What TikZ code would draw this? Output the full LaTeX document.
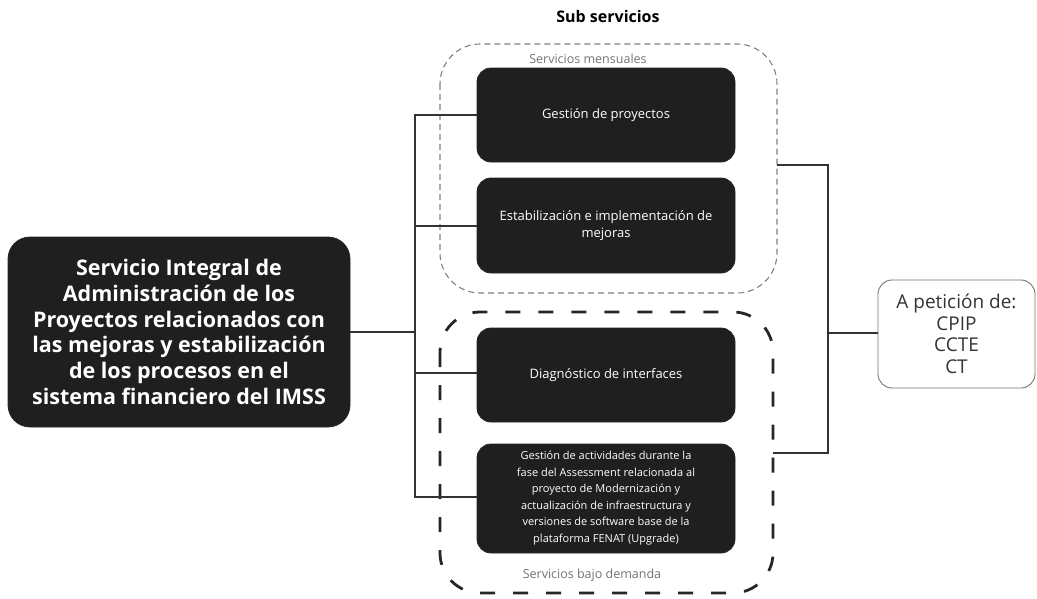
\documentclass[tikz,border=0pt]{standalone}
\usepackage{fontspec}
\setmainfont{Open Sans}
\begin{document}
\begin{tikzpicture}[x=1pt,y=-1pt,
  darkbox/.style={draw=black!85, fill=black!88, rounded corners=14pt, line width=0.8pt},
  boxtext/.style={text=white, font=\fontsize{13}{17}\selectfont, align=center},
  link/.style={draw=black!80, line width=1.8pt},
  grouplabel/.style={text=black!55, font=\fontsize{12.5}{14}\selectfont}]
\useasboundingbox (0,0) rectangle (1037,598);

% group frames
\draw[black!50, line width=1.1pt, dash pattern=on 6pt off 4pt, rounded corners=40pt] (440,44) rectangle (777,293);
\draw[black!85, line width=2.8pt, dash pattern=on 15pt off 18pt, rounded corners=40pt] (440,312) rectangle (773,593);

\node (title) at (608,16) {\fontsize{16}{18}\selectfont\bfseries Sub servicios};
\node[grouplabel] (lblm) at (588,59) {Servicios mensuales};
\node[grouplabel] (lbld) at (592,575) {Servicios bajo demanda};

% main service
\draw[darkbox, rounded corners=22pt] (8,237) rectangle (350,427);
\node[text=white, font=\fontsize{21.5}{25.8}\selectfont\bfseries, align=center] (main) at (179,332)
  {Servicio Integral de\\Administración de los\\Proyectos relacionados con\\las mejoras y estabilización\\de los procesos en el\\sistema financiero del IMSS};
\coordinate (mainE) at (350,332);

% sub services
\draw[darkbox] (477,68) rectangle (735,162);
\node[boxtext] (s1) at (606,115) {Gestión de proyectos};
\draw[darkbox] (477,178) rectangle (735,273);
\node[boxtext] (s2) at (606,226) {Estabilización e implementación de\\mejoras};
\draw[darkbox] (477,328) rectangle (735,422);
\node[boxtext] (s3) at (606,375) {Diagnóstico de interfaces};
\draw[darkbox] (477,444) rectangle (735,553);
\node[boxtext, font=\fontsize{11}{16.5}\selectfont] (s4) at (606,498)
  {Gestión de actividades durante la\\fase del Assessment relacionada al\\proyecto de Modernización y\\actualización de infraestructura y\\versiones de software base de la\\plataforma FENAT (Upgrade)};

\coordinate (s1W) at (477,115);
\coordinate (s2W) at (477,226);
\coordinate (s3W) at (477,373);
\coordinate (s4W) at (477,497);

% requester
\node[draw=black!55, line width=0.9pt, rounded corners=14pt, minimum width=157pt, minimum height=108pt,
  align=center, font=\fontsize{19}{21.5}\selectfont, text=black!80] (req) at (956.5,334)
  {A petición de:\\CPIP\\CCTE\\CT};

% tree from the main service to the sub services
\coordinate (bus) at (415,332);
\draw[link] (mainE) -- (bus);
\draw[link] (s1W) -| (bus) |- (s4W);
\draw[link] (s2W) -- (s2W -| bus);
\draw[link] (s3W) -- (s3W -| bus);

% groups to requester
\coordinate (gm) at (777,165);
\coordinate (gd) at (773,453);
\coordinate (rbus) at (828,333);
\draw[link] (gm) -| (rbus) |- (gd);
\draw[link] (rbus) -- (req.west |- rbus);
\end{tikzpicture}
\end{document}
